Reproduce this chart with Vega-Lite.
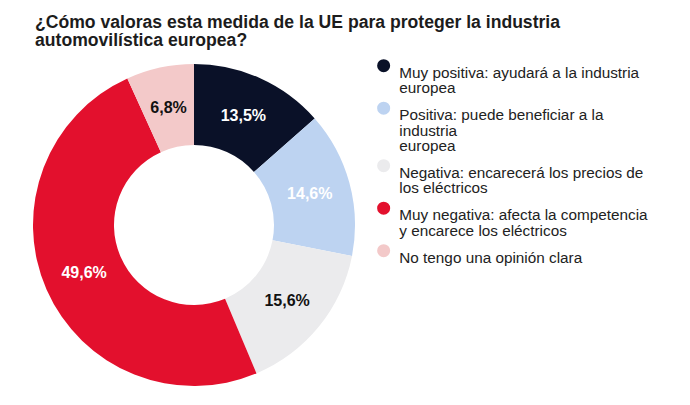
{
  "$schema": "https://vega.github.io/schema/vega-lite/v6.json",
  "width": 322,
  "height": 322,
  "autosize": {"type": "none"},
  "padding": {"left": 33, "top": 64, "right": 335, "bottom": 19},
  "background": "white",
  "title": {
    "text": ["¿Cómo valoras esta medida de la UE para proteger la industria", "automovilística europea?"],
    "anchor": "start",
    "font": "Liberation Sans",
    "fontSize": 17.6,
    "fontWeight": "bold",
    "color": "#1c1c1c",
    "lineHeight": 18,
    "offset": 8,
    "dx": 2
  },
  "data": {
    "values": [
      {"categoria": "Muy positiva: ayudará a la industria\neuropea", "valor": 13.5, "etiqueta": "13,5%", "orden": 1},
      {"categoria": "Positiva: puede beneficiar a la\nindustria\neuropea", "valor": 14.6, "etiqueta": "14,6%", "orden": 2},
      {"categoria": "Negativa: encarecerá los precios de\nlos eléctricos", "valor": 15.6, "etiqueta": "15,6%", "orden": 3},
      {"categoria": "Muy negativa: afecta la competencia\ny encarece los eléctricos", "valor": 49.6, "etiqueta": "49,6%", "orden": 4},
      {"categoria": "No tengo una opinión clara", "valor": 6.8, "etiqueta": "6,8%", "orden": 5}
    ]
  },
  "encoding": {
    "theta": {"field": "valor", "type": "quantitative", "stack": true},
    "order": {"field": "orden", "type": "quantitative"}
  },
  "layer": [
    {
      "mark": {"type": "arc", "outerRadius": 161, "innerRadius": 80},
      "encoding": {
        "color": {
          "field": "categoria",
          "type": "nominal",
          "scale": {
            "domain": [
              "Muy positiva: ayudará a la industria\neuropea",
              "Positiva: puede beneficiar a la\nindustria\neuropea",
              "Negativa: encarecerá los precios de\nlos eléctricos",
              "Muy negativa: afecta la competencia\ny encarece los eléctricos",
              "No tengo una opinión clara"
            ],
            "range": ["#0a1128", "#bdd3f1", "#ebebed", "#e3102d", "#f3c9c9"]
          },
          "legend": {
            "orient": "none",
            "legendX": 343,
            "legendY": -6,
            "title": null,
            "symbolType": "circle",
            "symbolSize": 170,
            "symbolStrokeWidth": 0,
            "labelFont": "Liberation Sans",
            "labelFontSize": 15.3,
            "labelColor": "#222222",
            "labelExpr": "split(datum.label, '\\n')",
            "labelBaseline": "top",
            "labelLimit": 0,
            "labelOffset": 8,
            "rowPadding": 3.5
          }
        }
      }
    },
    {
      "mark": {"type": "text", "radius": 120, "font": "Liberation Sans", "fontSize": 16, "fontWeight": "bold"},
      "encoding": {
        "text": {"field": "etiqueta", "type": "nominal"},
        "color": {"condition": {"test": "datum.orden == 3 || datum.orden == 5", "value": "#111111"}, "value": "#ffffff"}
      }
    }
  ],
  "config": {"view": {"stroke": null}, "style": {"guide-label": {"lineHeight": 15.5}}}
}
